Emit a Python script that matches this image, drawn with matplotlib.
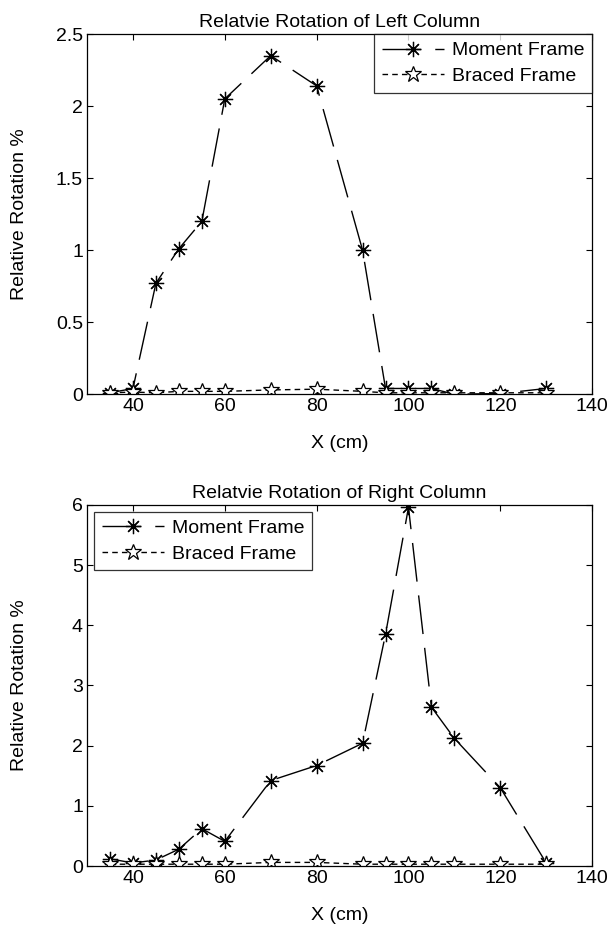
import matplotlib
matplotlib.use('Agg')
import matplotlib.pyplot as plt
import numpy as np

plt.rcParams['font.family'] = ['Liberation Sans', 'DejaVu Sans']

# data
x = [35, 40, 45, 50, 55, 60, 70, 80, 90, 95, 100, 105, 110, 120, 130]

left_moment = [0.01, 0.04, 0.77, 1.01, 1.20, 2.05, 2.35, 2.14, 1.00, 0.04, 0.04, 0.04, 0.00, 0.005, 0.04]
left_braced = [0.01, 0.015, 0.01, 0.02, 0.02, 0.02, 0.03, 0.035, 0.02, 0.01, 0.01, 0.01, 0.01, 0.01, 0.01]

right_moment = [0.12, 0.05, 0.10, 0.28, 0.62, 0.41, 1.42, 1.67, 2.04, 3.85, 5.96, 2.64, 2.12, 1.30, 0.05]
right_braced = [0.03, 0.03, 0.03, 0.03, 0.03, 0.03, 0.06, 0.06, 0.03, 0.03, 0.03, 0.03, 0.03, 0.03, 0.03]

titles = ['Relatvie Rotation of Left Column', 'Relatvie Rotation of Right Column']

asterisk = (8, 2, 0)
md = (0, (28, 10))

fig = plt.figure(figsize=(6.13, 9.32), dpi=100)
ax1 = fig.add_axes([0.142, 0.577, 0.824, 0.3865])
ax2 = fig.add_axes([0.142, 0.0708, 0.824, 0.3874])

def draw(ax, ym, yb, title, ylim, yticks, ytl, loc, axpad):
    ax.plot(x, ym, color='black', lw=1.0, linestyle=md, marker=asterisk,
            markersize=11, markeredgewidth=0.9, label='Moment Frame')
    ax.plot(x, yb, color='black', lw=1.0, linestyle=(0, (4, 3)), marker='*',
            markersize=12, markerfacecolor='white', markeredgewidth=0.9,
            label='Braced Frame')
    ax.set_xlim(30, 140)
    ax.set_ylim(*ylim)
    ax.set_xticks([40, 60, 80, 100, 120, 140])
    ax.set_yticks(yticks)
    ax.set_yticklabels(ytl)
    ax.tick_params(direction='in', top=True, right=True, labelsize=14, length=4, pad=3)
    ax.set_title(title, fontsize=14, pad=5)
    ax.set_xlabel('X (cm)', fontsize=14, labelpad=14)
    ax.set_ylabel('Relative Rotation %', fontsize=14)
    ax.yaxis.set_label_coords(-0.117, 0.5)
    leg = ax.legend(loc=loc, fontsize=14, frameon=True, fancybox=False,
                    edgecolor='black', borderaxespad=axpad, handlelength=3.2,
                    handletextpad=0.4, borderpad=0.4, labelspacing=0.4)
    leg.get_frame().set_linewidth(0.9)
    for s in ax.spines.values():
        s.set_linewidth(0.9)

draw(ax1, left_moment, left_braced, titles[0], (0, 2.5),
     [0, 0.5, 1, 1.5, 2, 2.5], ['0', '0.5', '1', '1.5', '2', '2.5'], 'upper right', 0.0)
draw(ax2, right_moment, right_braced, titles[1], (0, 6),
     [0, 1, 2, 3, 4, 5, 6], ['0', '1', '2', '3', '4', '5', '6'], 'upper left', 0.35)

fig.savefig('out.png', dpi=100)
